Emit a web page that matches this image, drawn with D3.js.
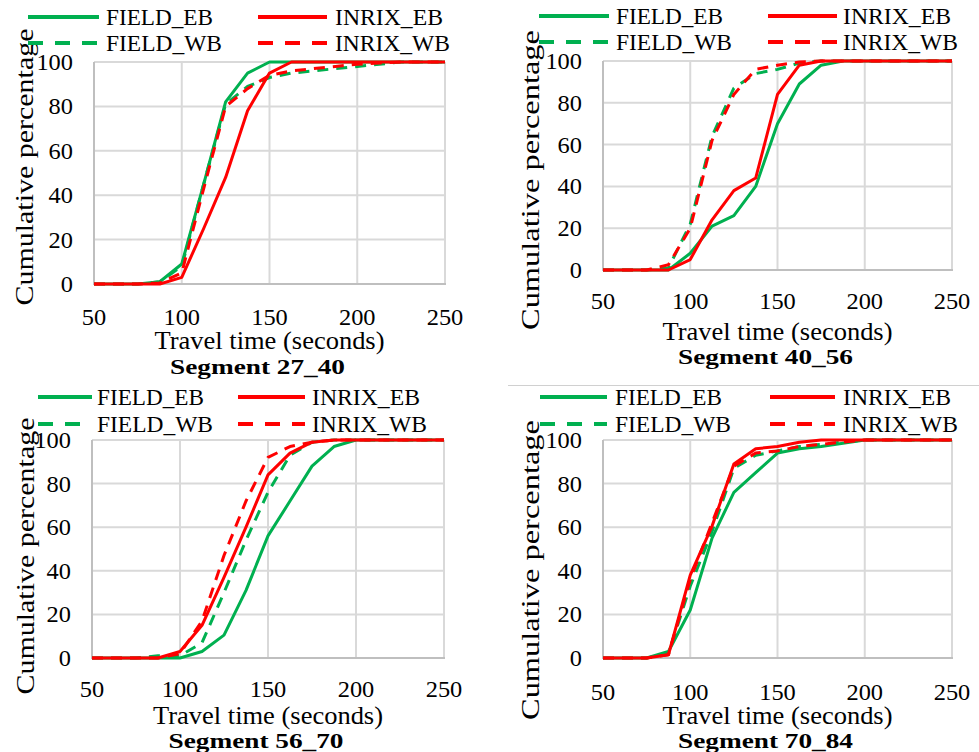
<!DOCTYPE html>
<html>
<head>
<meta charset="utf-8">
<script src="https://cdn.jsdelivr.net/npm/d3@7"></script>
<style>
  body { margin: 0; background: #fff; }
</style>
</head>
<body>
<svg id="chart" width="979" height="752"></svg>
<script>
// travel time grid (seconds) shared by every series
var travelTimes = [50, 62.5, 75, 87.5, 100, 112.5, 125, 137.5, 150, 162.5, 175, 187.5, 200, 212.5, 225, 237.5, 250];
var xTicks = [50, 100, 150, 200, 250];
var yTicks = [0, 20, 40, 60, 80, 100];
var seriesNames = ["FIELD_EB", "FIELD_WB", "INRIX_EB", "INRIX_WB"];
var segmentLabels = ["Segment 27_40", "Segment 40_56", "Segment 56_70", "Segment 70_84"];

// cumulative percentage, segment 27_40
var fieldEB_27_40 = [0, 0, 0, 1, 9, 45, 82, 95, 100, 100, 100, 100, 100, 100, 100, 100, 100];
var fieldWB_27_40 = [0, 0, 0, 1, 8, 45, 81, 89, 93, 95, 96, 97, 98, 99, 100, 100, 100];
var inrixEB_27_40 = [0, 0, 0, 0, 3, 25, 48, 78, 95, 100, 100, 100, 100, 100, 100, 100, 100];
var inrixWB_27_40 = [0, 0, 0, 0.5, 5, 43, 80, 88, 94, 96, 97, 98, 99, 99.5, 100, 100, 100];

// segment 40_56
var fieldEB_40_56 = [0, 0, 0, 0, 8, 21, 26, 40, 70, 89, 98, 100, 100, 100, 100, 100, 100];
var fieldWB_40_56 = [0, 0, 0, 1, 22, 64, 87, 94, 96, 99, 100, 100, 100, 100, 100, 100, 100];
var inrixEB_40_56 = [0, 0, 0, 0, 5, 24, 38, 44, 84, 98, 100, 100, 100, 100, 100, 100, 100];
var inrixWB_40_56 = [0, 0, 0, 2.5, 20, 62, 84, 96, 98, 99.5, 100, 100, 100, 100, 100, 100, 100];

// segment 56_70
var fieldEB_56_70 = [0, 0, 0, 0, 0, 3, 10.5, 31, 56, 72, 88, 97, 100, 100, 100, 100, 100];
var fieldWB_56_70 = [0, 0, 0, 1, 1, 7, 30, 54, 76, 93, 99, 100, 100, 100, 100, 100, 100];
var inrixEB_56_70 = [0, 0, 0, 0, 3, 15, 37, 60, 84, 94, 99, 100, 100, 100, 100, 100, 100];
var inrixWB_56_70 = [0, 0, 0, 0, 2, 17, 47, 72, 92, 97, 99, 100, 100, 100, 100, 100, 100];

// segment 70_84
var fieldEB_70_84 = [0, 0, 0, 3, 22, 55, 76, 85, 94, 96, 97, 98.5, 100, 100, 100, 100, 100];
var fieldWB_70_84 = [0, 0, 0, 2, 33, 58, 87, 93, 95, 97, 98, 99, 100, 100, 100, 100, 100];
var inrixEB_70_84 = [0, 0, 0, 1.5, 38, 60.5, 89, 96, 97, 99, 100, 100, 100, 100, 100, 100, 100];
var inrixWB_70_84 = [0, 0, 0, 1.5, 36, 62, 88, 94, 95, 97, 98, 99, 100, 100, 100, 100, 100];

var segmentSeries = [
    [fieldEB_27_40, fieldWB_27_40, inrixEB_27_40, inrixWB_27_40],
    [fieldEB_40_56, fieldWB_40_56, inrixEB_40_56, inrixWB_40_56],
    [fieldEB_56_70, fieldWB_56_70, inrixEB_56_70, inrixWB_56_70],
    [fieldEB_70_84, fieldWB_70_84, inrixEB_70_84, inrixWB_70_84]
];

var GREEN = "#00b050", RED = "#ff0000";
var FONT = "Liberation Serif";
var seriesStyle = [
    {color: GREEN, dash: null},
    {color: GREEN, dash: "11,8"},
    {color: RED, dash: null},
    {color: RED, dash: "11,8"}
];
// text widths seen in the picture (px), per legend entry
var legendWidths = [107, 116, 108, 115];

// panel layout (pixels)
var panels = [
    {left: 94,  right: 445, top: 62,  bottom: 284, tickY: 317, titleY: 341, segY: 367, ylabX: 24,  ylabY: 167, ylabLen: 277,
     legRows: [17, 43], legCols: [[28, 99, 106], [258, 327, 335]]},
    {left: 603, right: 952, top: 61,  bottom: 270, tickY: 301, titleY: 332, segY: 357, ylabX: 530, ylabY: 180, ylabLen: 300,
     legRows: [16, 42], legCols: [[539, 609, 616], [768, 837, 843]]},
    {left: 92,  right: 444, top: 440, bottom: 658, tickY: 689, titleY: 716, segY: 741, ylabX: 25,  ylabY: 556, ylabLen: 277,
     legRows: [397, 424], legCols: [[38, 92, 97], [238, 305, 312]]},
    {left: 603, right: 952, top: 440, bottom: 658, tickY: 692, titleY: 716, segY: 741, ylabX: 530, ylabY: 570, ylabLen: 300,
     legRows: [397, 424], legCols: [[540, 607, 615], [770, 835, 843]]}
];

var svg = d3.select("#chart");

function label(sel, size) {
    return sel.attr("font-family", FONT).attr("font-size", size)
        .attr("fill", "#000").attr("lengthAdjust", "spacingAndGlyphs");
}

// thin separator between the top-right caption and the lower charts
svg.append("line")
    .attr("x1", 508).attr("x2", 979).attr("y1", 385.5).attr("y2", 385.5)
    .attr("stroke", "#d0d0d0").attr("stroke-width", 1);

panels.forEach(function(p, i) {
    var g = svg.append("g");
    var x = d3.scaleLinear().domain([50, 250]).range([p.left, p.right]);
    var y = d3.scaleLinear().domain([0, 100]).range([p.bottom, p.top]);

    // gridlines
    g.selectAll(".vgrid").data(xTicks.slice(1)).enter().append("line")
        .attr("x1", function(d) { return x(d); }).attr("x2", function(d) { return x(d); })
        .attr("y1", y(0)).attr("y2", y(100))
        .attr("stroke", "#d9d9d9").attr("stroke-width", 2);
    g.selectAll(".hgrid").data(yTicks.slice(1)).enter().append("line")
        .attr("x1", x(50)).attr("x2", x(250))
        .attr("y1", function(d) { return y(d); }).attr("y2", function(d) { return y(d); })
        .attr("stroke", "#d9d9d9").attr("stroke-width", 2);

    // axis lines
    g.append("line").attr("x1", x(50)).attr("x2", x(50)).attr("y1", y(0)).attr("y2", y(100))
        .attr("stroke", "#bfbfbf").attr("stroke-width", 2);
    g.append("line").attr("x1", x(50) - 1).attr("x2", x(250) + 1).attr("y1", y(0)).attr("y2", y(0))
        .attr("stroke", "#bfbfbf").attr("stroke-width", 2);

    // tick labels (digits are ~12px wide in the picture)
    label(g.selectAll(".xt").data(xTicks).enter().append("text"), 23.5)
        .attr("x", function(d) { return x(d); }).attr("y", p.tickY + 8)
        .attr("text-anchor", "middle")
        .attr("textLength", function(d) { return String(d).length * 12.2; })
        .text(function(d) { return d; });
    label(g.selectAll(".yt").data(yTicks).enter().append("text"), 23.5)
        .attr("x", x(50) - 21).attr("y", function(d) { return y(d) + 8; })
        .attr("text-anchor", "end")
        .attr("textLength", function(d) { return String(d).length * 12.2; })
        .text(function(d) { return d; });

    // axis titles
    label(g.append("text"), 25).attr("x", (p.left + p.right) / 2).attr("y", p.titleY + 8)
        .attr("text-anchor", "middle").attr("textLength", 230)
        .text("Travel time (seconds)");
    label(g.append("text"), 26)
        .attr("transform", "translate(" + (p.ylabX + 9) + "," + p.ylabY + ") rotate(-90)")
        .attr("text-anchor", "middle").attr("textLength", p.ylabLen)
        .text("Cumulative percentage");
    label(g.append("text"), 22).attr("x", (p.left + p.right) / 2 - 12).attr("y", p.segY + 7)
        .attr("text-anchor", "middle").attr("textLength", 175)
        .attr("font-weight", "bold").text(segmentLabels[i]);

    // series
    var line = d3.line()
        .x(function(d, k) { return x(travelTimes[k]); })
        .y(function(d) { return y(d); });
    segmentSeries[i].forEach(function(values, s) {
        g.append("path").datum(values)
            .attr("d", line)
            .attr("fill", "none")
            .attr("stroke", seriesStyle[s].color)
            .attr("stroke-width", 3)
            .attr("stroke-linejoin", "round")
            .attr("stroke-dasharray", seriesStyle[s].dash);
    });

    // legend: FIELD in column 0, INRIX in column 1; EB row 0, WB row 1
    seriesNames.forEach(function(name, s) {
        var col = p.legCols[s < 2 ? 0 : 1];
        var ry = p.legRows[s % 2];
        g.append("line")
            .attr("x1", col[0]).attr("x2", col[1]).attr("y1", ry).attr("y2", ry)
            .attr("stroke", seriesStyle[s].color).attr("stroke-width", 4)
            .attr("stroke-dasharray", seriesStyle[s].dash ? "15,12" : null);
        label(g.append("text"), 23.5).attr("x", col[2]).attr("y", ry + 8)
            .attr("textLength", legendWidths[s])
            .text(name);
    });
});
</script>
</body>
</html>
